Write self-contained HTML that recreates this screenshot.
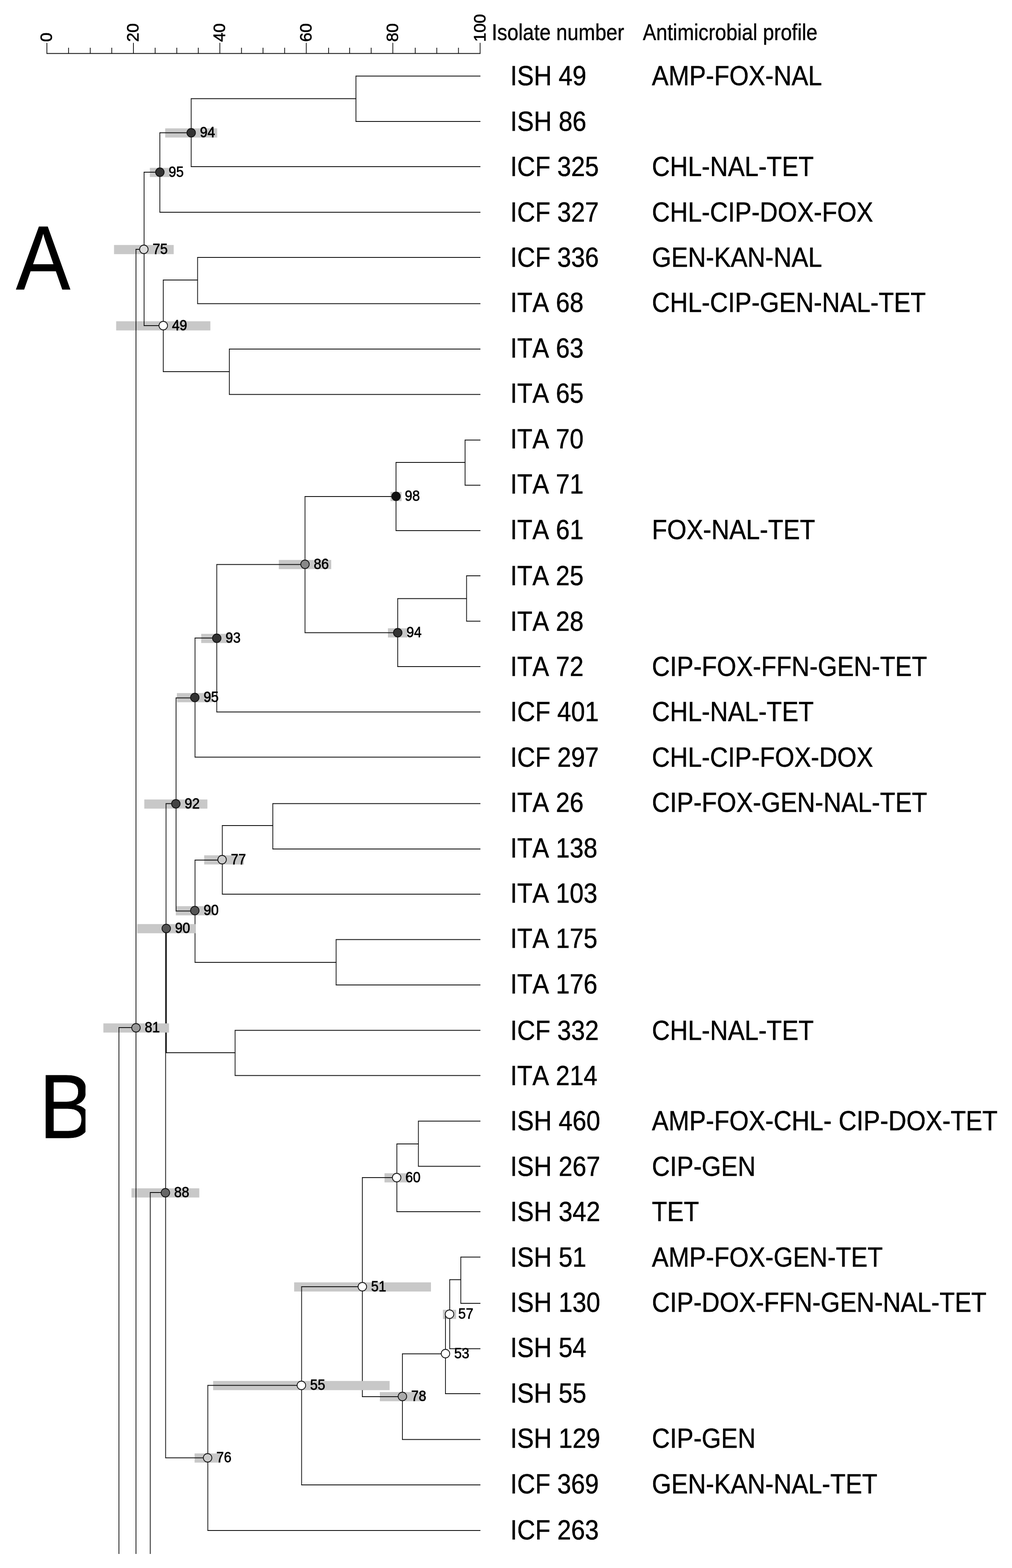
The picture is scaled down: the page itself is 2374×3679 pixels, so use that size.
<!DOCTYPE html>
<html lang="en"><head><meta charset="utf-8"><title>Dendrogram</title>
<style>html,body{margin:0;padding:0;background:#fff}body{width:2374px;height:3679px;overflow:hidden}svg{display:block}text{font-family:"Liberation Sans",sans-serif;fill:#000;font-kerning:none}</style></head><body>
<svg width="2374" height="3679" viewBox="0 0 2374 3679">
<rect width="2374" height="3679" fill="#fff"/>
<g fill="#c8c8c8">
<rect x="387.5" y="301.2" width="122.0" height="21.5"/>
<rect x="351.5" y="393.8" width="47.0" height="21.5"/>
<rect x="267.5" y="574.8" width="140.0" height="21.5"/>
<rect x="272.5" y="753.8" width="221.0" height="21.5"/>
<rect x="916.0" y="1154.2" width="26.0" height="21.5"/>
<rect x="654.0" y="1313.8" width="123.0" height="21.5"/>
<rect x="910.0" y="1474.2" width="46.0" height="21.5"/>
<rect x="472.0" y="1487.2" width="73.0" height="21.5"/>
<rect x="415.0" y="1626.2" width="84.0" height="21.5"/>
<rect x="338.5" y="1875.8" width="148.0" height="21.5"/>
<rect x="479.0" y="2006.8" width="93.0" height="21.5"/>
<rect x="412.5" y="2126.2" width="89.0" height="21.5"/>
<rect x="321.5" y="2168.2" width="137.0" height="21.5"/>
<rect x="242.5" y="2401.2" width="154.0" height="21.5"/>
<rect x="308.5" y="2788.2" width="159.0" height="21.5"/>
<rect x="902.0" y="2752.8" width="57.0" height="21.5"/>
<rect x="690.0" y="3008.8" width="321.0" height="21.5"/>
<rect x="1039.0" y="3073.2" width="31.0" height="21.5"/>
<rect x="891.0" y="3266.2" width="106.0" height="21.5"/>
<rect x="500.0" y="3240.2" width="414.0" height="21.5"/>
<rect x="456.5" y="3410.2" width="61.0" height="21.5"/>
</g>
<path d="M109.0 125.5H1127.3M110.0 125.5V100.5M160.8 125.5V112.0M211.7 125.5V112.0M262.2 125.5V112.0M313.0 125.5V100.5M363.9 125.5V112.0M414.7 125.5V112.0M465.2 125.5V112.0M515.7 125.5V100.5M566.5 125.5V112.0M617.0 125.5V112.0M667.7 125.5V112.0M718.5 125.5V100.5M770.8 125.5V112.0M820.2 125.5V112.0M870.7 125.5V112.0M921.5 125.5V100.5M974.1 125.5V112.0M1024.6 125.5V112.0M1075.5 125.5V112.0M1126.3 125.5V100.5" fill="none" stroke="#111" stroke-width="1.8"/>
<path d="M835.0 177.5V286.0M448.5 230.5V392.0M375.0 310.5V499.0M338.0 403.0V765.0M383.0 656.0V873.0M463.5 603.0V713.5M538.0 818.0V926.5M319.0 584.0V3646.0M279.0 2410.0V3646.0M352.5 2797.0V3646.0M1091.0 1031.5V1139.5M929.0 1084.0V1246.0M1094.5 1350.0V1458.5M933.0 1403.5V1565.0M715.5 1164.0V1485.5M508.5 1323.5V1671.5M457.5 1496.0V1777.5M413.0 1636.5V2138.5M640.0 1884.5V1993.0M521.5 1936.0V2099.0M788.5 2203.5V2312.0M457.5 2017.0V2259.0M389.5 1884.5V2471.0M390.3 2177.5V2471.0M551.5 2416.5V2524.5M388.5 2177.5V3421.5M487.5 3249.5V3592.0M707.5 3018.0V3485.0M850.0 2762.0V3278.0M931.0 2683.0V2844.0M981.5 2629.5V2737.5M944.0 3175.5V3378.5M1045.0 3082.5V3271.0M1055.0 3001.5V3165.5M1081.0 2948.5V3059.0M447.5 231.5H836.0M374.0 311.5H449.5M337.0 404.0H376.0M318.0 585.0H339.0M337.0 764.0H384.0M382.0 657.0H464.5M382.0 872.0H539.0M278.0 2411.0H320.0M928.0 1085.0H1092.0M714.5 1165.0H930.0M932.0 1404.5H1095.5M714.5 1484.5H934.0M507.5 1324.5H716.5M456.5 1497.0H509.5M412.0 1637.5H458.5M388.5 1885.5H414.0M520.5 1937.0H641.0M456.5 2018.0H522.5M456.5 2258.0H789.5M412.0 2137.5H458.5M388.5 2470.0H552.5M351.5 2798.0H389.5M387.5 3420.5H488.5M486.5 3250.5H708.5M706.5 3019.0H851.0M849.0 2763.0H932.0M930.0 2684.0H982.5M849.0 3277.0H945.0M943.0 3176.5H1046.0M1044.0 3083.5H1056.0M1054.0 3002.5H1082.0M834.0 178.5H1127.0M834.0 285.0H1127.0M447.5 391.0H1127.0M374.0 498.0H1127.0M462.5 604.0H1127.0M462.5 712.5H1127.0M537.0 819.0H1127.0M537.0 925.5H1127.0M1090.0 1032.5H1127.0M1090.0 1138.5H1127.0M928.0 1245.0H1127.0M1093.5 1351.0H1127.0M1093.5 1457.5H1127.0M932.0 1564.0H1127.0M507.5 1670.5H1127.0M456.5 1776.5H1127.0M639.0 1885.5H1127.0M639.0 1992.0H1127.0M520.5 2098.0H1127.0M787.5 2204.5H1127.0M787.5 2311.0H1127.0M550.5 2417.5H1127.0M550.5 2523.5H1127.0M980.5 2630.5H1127.0M980.5 2736.5H1127.0M930.0 2843.0H1127.0M1080.0 2949.5H1127.0M1080.0 3058.0H1127.0M1054.0 3164.5H1127.0M1044.0 3270.0H1127.0M943.0 3377.5H1127.0M706.5 3484.0H1127.0M486.5 3591.0H1127.0" fill="none" stroke="#111" stroke-width="1.8"/>
<g fill="#c8c8c8">
<rect x="386.0" y="2401.2" width="7.0" height="21.5"/>
<rect x="847.0" y="3240.2" width="6.0" height="21.5"/>
<rect x="455.0" y="2168.2" width="3.5" height="21.5"/>
</g>
<circle cx="448.5" cy="311.5" r="10" fill="#333" stroke="#111" stroke-width="1.8"/>
<circle cx="375.0" cy="404.0" r="10" fill="#333" stroke="#111" stroke-width="1.8"/>
<circle cx="337.5" cy="585.0" r="10" fill="#ddd" stroke="#111" stroke-width="1.8"/>
<circle cx="383.0" cy="764.0" r="10" fill="#fff" stroke="#111" stroke-width="1.8"/>
<circle cx="929.0" cy="1164.5" r="10" fill="#111" stroke="#111" stroke-width="1.8"/>
<circle cx="715.5" cy="1324.0" r="10" fill="#888" stroke="#111" stroke-width="1.8"/>
<circle cx="933.0" cy="1484.5" r="10" fill="#333" stroke="#111" stroke-width="1.8"/>
<circle cx="508.5" cy="1497.5" r="10" fill="#333" stroke="#111" stroke-width="1.8"/>
<circle cx="457.0" cy="1636.5" r="10" fill="#333" stroke="#111" stroke-width="1.8"/>
<circle cx="412.5" cy="1886.0" r="10" fill="#444" stroke="#111" stroke-width="1.8"/>
<circle cx="521.0" cy="2017.0" r="10" fill="#ccc" stroke="#111" stroke-width="1.8"/>
<circle cx="457.0" cy="2136.5" r="10" fill="#555" stroke="#111" stroke-width="1.8"/>
<circle cx="390.0" cy="2178.5" r="10" fill="#555" stroke="#111" stroke-width="1.8"/>
<circle cx="319.0" cy="2411.5" r="10" fill="#999" stroke="#111" stroke-width="1.8"/>
<circle cx="388.0" cy="2798.5" r="10" fill="#666" stroke="#111" stroke-width="1.8"/>
<circle cx="930.5" cy="2763.0" r="10" fill="#fff" stroke="#111" stroke-width="1.8"/>
<circle cx="850.0" cy="3019.0" r="10" fill="#fff" stroke="#111" stroke-width="1.8"/>
<circle cx="1054.5" cy="3083.5" r="10" fill="#fff" stroke="#111" stroke-width="1.8"/>
<circle cx="1045.0" cy="3176.0" r="10" fill="#fff" stroke="#111" stroke-width="1.8"/>
<circle cx="944.0" cy="3276.5" r="10" fill="#aaa" stroke="#111" stroke-width="1.8"/>
<circle cx="707.0" cy="3250.5" r="10" fill="#fff" stroke="#111" stroke-width="1.8"/>
<circle cx="487.0" cy="3420.5" r="10" fill="#ccc" stroke="#111" stroke-width="1.8"/>
<g font-size="36" stroke="#000" stroke-width="0.9">
<text transform="translate(469.0 322.1) scale(0.885 1)">94</text>
<text transform="translate(395.5 414.6) scale(0.885 1)">95</text>
<text transform="translate(358.0 595.6) scale(0.885 1)">75</text>
<text transform="translate(403.5 774.6) scale(0.885 1)">49</text>
<text transform="translate(949.5 1175.1) scale(0.885 1)">98</text>
<text transform="translate(736.0 1334.6) scale(0.885 1)">86</text>
<text transform="translate(953.5 1495.1) scale(0.885 1)">94</text>
<text transform="translate(529.0 1508.1) scale(0.885 1)">93</text>
<text transform="translate(477.5 1647.1) scale(0.885 1)">95</text>
<text transform="translate(433.0 1896.6) scale(0.885 1)">92</text>
<text transform="translate(541.5 2027.6) scale(0.885 1)">77</text>
<text transform="translate(477.5 2147.1) scale(0.885 1)">90</text>
<text transform="translate(410.5 2189.1) scale(0.885 1)">90</text>
<text transform="translate(339.5 2422.1) scale(0.885 1)">81</text>
<text transform="translate(408.5 2809.1) scale(0.885 1)">88</text>
<text transform="translate(951.0 2773.6) scale(0.885 1)">60</text>
<text transform="translate(870.5 3029.6) scale(0.885 1)">51</text>
<text transform="translate(1075.0 3094.1) scale(0.885 1)">57</text>
<text transform="translate(1065.5 3186.6) scale(0.885 1)">53</text>
<text transform="translate(964.5 3287.1) scale(0.885 1)">78</text>
<text transform="translate(727.5 3261.1) scale(0.885 1)">55</text>
<text transform="translate(507.5 3431.1) scale(0.885 1)">76</text>
</g>
<g font-size="39.2">
<text transform="translate(122.3 98.3) rotate(-90)" stroke="#000" stroke-width="0.8">0</text>
<text transform="translate(325.3 98.3) rotate(-90)" stroke="#000" stroke-width="0.8">20</text>
<text transform="translate(528.0 98.3) rotate(-90)" stroke="#000" stroke-width="0.8">40</text>
<text transform="translate(730.8 98.3) rotate(-90)" stroke="#000" stroke-width="0.8">60</text>
<text transform="translate(933.8 98.3) rotate(-90)" stroke="#000" stroke-width="0.8">80</text>
<text transform="translate(1138.6 98.3) rotate(-90)" stroke="#000" stroke-width="0.8">100</text>
</g>
<g font-size="53.6" stroke="#000" stroke-width="0.6">
<text transform="translate(1153.5 94.0) scale(0.876 1)">Isolate number</text>
<text transform="translate(1508.0 94.0) scale(0.876 1)">Antimicrobial profile</text>
</g>
<g font-size="65.4" stroke="#000" stroke-width="0.7">
<text transform="translate(1197.0 200.1) scale(0.893 1)">ISH 49</text>
<text transform="translate(1529.3 200.1) scale(0.893 1)">AMP-FOX-NAL</text>
<text transform="translate(1197.0 306.6) scale(0.893 1)">ISH 86</text>
<text transform="translate(1197.0 413.0) scale(0.893 1)">ICF 325</text>
<text transform="translate(1529.3 413.0) scale(0.893 1)">CHL-NAL-TET</text>
<text transform="translate(1197.0 519.5) scale(0.893 1)">ICF 327</text>
<text transform="translate(1529.3 519.5) scale(0.893 1)">CHL-CIP-DOX-FOX</text>
<text transform="translate(1197.0 625.9) scale(0.893 1)">ICF 336</text>
<text transform="translate(1529.3 625.9) scale(0.893 1)">GEN-KAN-NAL</text>
<text transform="translate(1197.0 732.4) scale(0.893 1)">ITA 68</text>
<text transform="translate(1529.3 732.4) scale(0.893 1)">CHL-CIP-GEN-NAL-TET</text>
<text transform="translate(1197.0 838.8) scale(0.893 1)">ITA 63</text>
<text transform="translate(1197.0 945.2) scale(0.893 1)">ITA 65</text>
<text transform="translate(1197.0 1051.7) scale(0.893 1)">ITA 70</text>
<text transform="translate(1197.0 1158.2) scale(0.893 1)">ITA 71</text>
<text transform="translate(1197.0 1264.6) scale(0.893 1)">ITA 61</text>
<text transform="translate(1529.3 1264.6) scale(0.893 1)">FOX-NAL-TET</text>
<text transform="translate(1197.0 1373.2) scale(0.893 1)">ITA 25</text>
<text transform="translate(1197.0 1479.6) scale(0.893 1)">ITA 28</text>
<text transform="translate(1197.0 1586.0) scale(0.893 1)">ITA 72</text>
<text transform="translate(1529.3 1586.0) scale(0.893 1)">CIP-FOX-FFN-GEN-TET</text>
<text transform="translate(1197.0 1692.4) scale(0.893 1)">ICF 401</text>
<text transform="translate(1529.3 1692.4) scale(0.893 1)">CHL-NAL-TET</text>
<text transform="translate(1197.0 1798.8) scale(0.893 1)">ICF 297</text>
<text transform="translate(1529.3 1798.8) scale(0.893 1)">CHL-CIP-FOX-DOX</text>
<text transform="translate(1197.0 1905.2) scale(0.893 1)">ITA 26</text>
<text transform="translate(1529.3 1905.2) scale(0.893 1)">CIP-FOX-GEN-NAL-TET</text>
<text transform="translate(1197.0 2011.6) scale(0.893 1)">ITA 138</text>
<text transform="translate(1197.0 2118.0) scale(0.893 1)">ITA 103</text>
<text transform="translate(1197.0 2224.4) scale(0.893 1)">ITA 175</text>
<text transform="translate(1197.0 2330.8) scale(0.893 1)">ITA 176</text>
<text transform="translate(1197.0 2439.5) scale(0.893 1)">ICF 332</text>
<text transform="translate(1529.3 2439.5) scale(0.893 1)">CHL-NAL-TET</text>
<text transform="translate(1197.0 2545.9) scale(0.893 1)">ITA 214</text>
<text transform="translate(1197.0 2652.3) scale(0.893 1)">ISH 460</text>
<text transform="translate(1529.3 2652.3) scale(0.893 1)">AMP-FOX-CHL- CIP-DOX-TET</text>
<text transform="translate(1197.0 2758.7) scale(0.893 1)">ISH 267</text>
<text transform="translate(1529.3 2758.7) scale(0.893 1)">CIP-GEN</text>
<text transform="translate(1197.0 2865.1) scale(0.893 1)">ISH 342</text>
<text transform="translate(1529.3 2865.1) scale(0.893 1)">TET</text>
<text transform="translate(1197.0 2971.5) scale(0.893 1)">ISH 51</text>
<text transform="translate(1529.3 2971.5) scale(0.893 1)">AMP-FOX-GEN-TET</text>
<text transform="translate(1197.0 3077.9) scale(0.893 1)">ISH 130</text>
<text transform="translate(1529.3 3077.9) scale(0.893 1)">CIP-DOX-FFN-GEN-NAL-TET</text>
<text transform="translate(1197.0 3184.3) scale(0.893 1)">ISH 54</text>
<text transform="translate(1197.0 3290.7) scale(0.893 1)">ISH 55</text>
<text transform="translate(1197.0 3397.1) scale(0.893 1)">ISH 129</text>
<text transform="translate(1529.3 3397.1) scale(0.893 1)">CIP-GEN</text>
<text transform="translate(1197.0 3503.5) scale(0.893 1)">ICF 369</text>
<text transform="translate(1529.3 3503.5) scale(0.893 1)">GEN-KAN-NAL-TET</text>
<text transform="translate(1197.0 3612.2) scale(0.893 1)">ICF 263</text>
</g>
<g font-size="213" stroke="#000" stroke-width="1">
<text transform="translate(37.5 679.0) scale(0.897 1)">A</text>
<clipPath id="cb"><rect x="0" y="2480" width="200.5" height="240"/></clipPath>
<g clip-path="url(#cb)"><text transform="translate(92.0 2670.0) scale(0.897 1)">B</text></g>
</g>
</svg></body></html>
